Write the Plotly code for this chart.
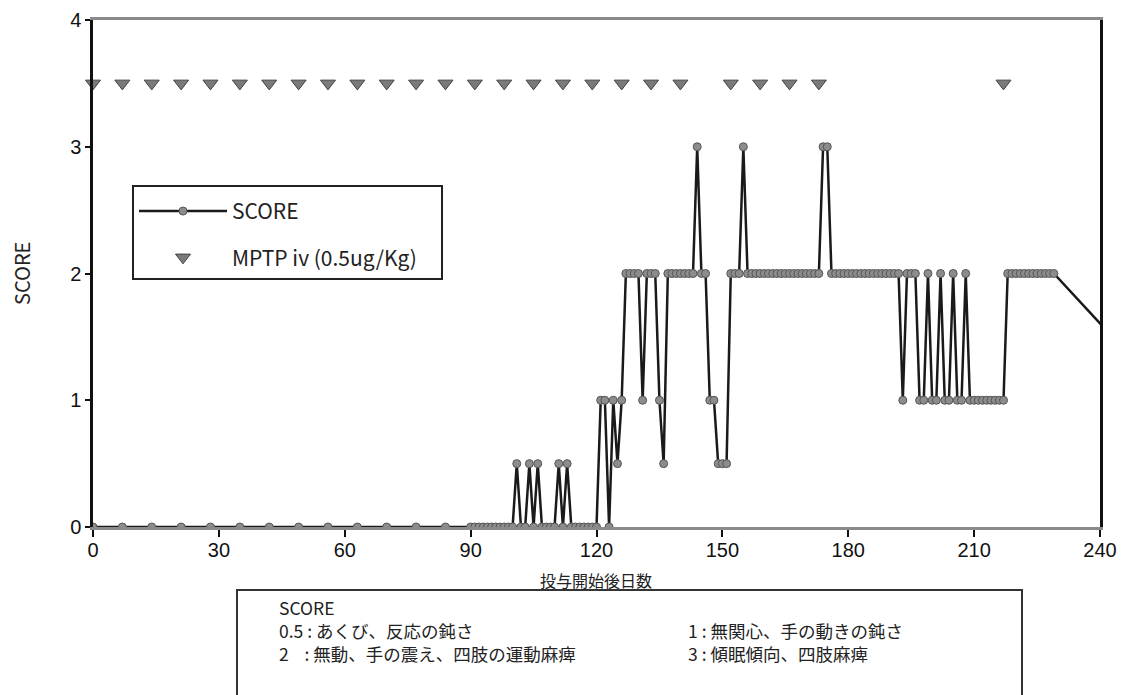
import plotly.graph_objects as go

# ---------------- data ----------------
weekly_days = [0, 7, 14, 21, 28, 35, 42, 49, 56, 63, 70, 77, 84]
weekly_score = [0, 0, 0, 0, 0, 0, 0, 0, 0, 0, 0, 0, 0]

daily_days = list(range(90, 230))
daily_score = [
    # 90-99
    0, 0, 0, 0, 0, 0, 0, 0, 0, 0,
    # 100-109
    0, 0.5, 0, 0, 0.5, 0, 0.5, 0, 0, 0,
    # 110-119
    0, 0.5, 0, 0.5, 0, 0, 0, 0, 0, 0,
    # 120-129
    0, 1, 1, 0, 1, 0.5, 1, 2, 2, 2,
    # 130-139
    2, 1, 2, 2, 2, 1, 0.5, 2, 2, 2,
    # 140-149
    2, 2, 2, 2, 3, 2, 2, 1, 1, 0.5,
    # 150-159
    0.5, 0.5, 2, 2, 2, 3, 2, 2, 2, 2,
    # 160-169
    2, 2, 2, 2, 2, 2, 2, 2, 2, 2,
    # 170-179
    2, 2, 2, 2, 3, 3, 2, 2, 2, 2,
    # 180-189
    2, 2, 2, 2, 2, 2, 2, 2, 2, 2,
    # 190-199
    2, 2, 2, 1, 2, 2, 2, 1, 1, 2,
    # 200-209
    1, 1, 2, 1, 1, 2, 1, 1, 2, 1,
    # 210-219
    1, 1, 1, 1, 1, 1, 1, 1, 2, 2,
    # 220-229
    2, 2, 2, 2, 2, 2, 2, 2, 2, 2,
]
tail_days = [257]
tail_score = [1.0]

score_days = weekly_days + daily_days + tail_days
score_values = weekly_score + daily_score + tail_score

mptp_days = [0, 7, 14, 21, 28, 35, 42, 49, 56, 63, 70, 77, 84, 91, 98, 105,
             112, 119, 126, 133, 140, 152, 159, 166, 173, 217]
mptp_level = [3.5, 3.5, 3.5, 3.5, 3.5, 3.5, 3.5, 3.5, 3.5, 3.5, 3.5, 3.5, 3.5,
              3.5, 3.5, 3.5, 3.5, 3.5, 3.5, 3.5, 3.5, 3.5, 3.5, 3.5, 3.5, 3.5]

x_ticks = [0, 30, 60, 90, 120, 150, 180, 210, 240]
y_ticks = [0, 1, 2, 3, 4]

legend_score = "SCORE"
legend_mptp = "MPTP iv (0.5ug/Kg)"
x_title = "投与開始後日数"
y_title = "SCORE"
box_left = ["SCORE",
            "0.5 : あくび、反応の鈍さ",
            "2\u00a0\u00a0\u00a0\u00a0: 無動、手の震え、四肢の運動麻痺"]
box_right = ["1 : 無関心、手の動きの鈍さ",
             "3 : 傾眠傾向、四肢麻痺"]

# ---------------- figure ----------------
OFF = 0                      # body margin removed via post_script
W, H = 1122, 695
ML = 93
MT = 20
MR = W - 1100
MB = H - 527
PW, PH = W - ML - MR, H - MT - MB


def px_x(px):
    """page pixel x -> paper coordinate"""
    return (px - OFF - ML) / PW


def px_y(py):
    """page pixel y -> paper coordinate"""
    return (H - MB - (py - OFF)) / PH


JP = "Noto Sans CJK JP"
TICKF = "Liberation Sans, Arial, sans-serif"

fig = go.Figure()
fig.add_trace(go.Scatter(
    x=score_days, y=score_values, mode="lines+markers", name=legend_score,
    line=dict(color="#1a1a1a", width=2.5),
    marker=dict(symbol="circle", size=8, color="#8c8c8c",
                line=dict(color="#555555", width=1)),
    legendgroup="a",
))
fig.add_trace(go.Scatter(
    x=mptp_days, y=mptp_level, mode="markers",
    name=legend_mptp + "\u00a0" * 4,
    marker=dict(symbol="triangle-down", size=13, color="#7a7a7a",
                line=dict(color="#444444", width=1)),
    cliponaxis=False, legendgroup="b",
))

fig.update_layout(
    width=W, height=H,
    margin=dict(l=ML, r=MR, t=MT, b=MB, autoexpand=False),
    paper_bgcolor="white", plot_bgcolor="white",
    showlegend=True,
    legend=dict(
        x=px_x(132), y=px_y(185), xanchor="left", yanchor="top",
        bgcolor="white", bordercolor="#222222", borderwidth=2,
        font=dict(family=JP, size=21, color="#222222"),
        itemwidth=88, tracegroupgap=16, traceorder="grouped",
        title=dict(text="\u00a0", font=dict(size=3)),
    ),
    xaxis=dict(
        range=[0, 240], tickvals=x_ticks, ticks="outside", ticklen=7,
        tickwidth=2, tickcolor="#111111", showgrid=False, zeroline=False,
        showline=True, linecolor="#8a8a8a", linewidth=3, mirror=True,
        automargin=False, ticklabelstandoff=-4,
        tickfont=dict(family=TICKF, size=20, color="#111111"),
    ),
    yaxis=dict(
        range=[0, 4], tickvals=y_ticks, ticks="outside", ticklen=5,
        tickwidth=1.5, tickcolor="#111111", showgrid=False, zeroline=False,
        showline=True, linecolor="#111111", linewidth=2.5, mirror=True,
        automargin=False,
        tickfont=dict(family=TICKF, size=20, color="#111111"),
    ),
)

annotations = [
    dict(text=x_title, x=px_x(596), y=px_y(580), xref="paper", yref="paper",
         showarrow=False, font=dict(family=JP, size=16, color="#222222"),
         xanchor="center", yanchor="middle"),
    dict(text=y_title, x=px_x(21), y=px_y(274), xref="paper", yref="paper",
         showarrow=False, textangle=-90,
         font=dict(family=JP, size=20, color="#222222"),
         xanchor="center", yanchor="middle"),
    dict(text="<br>".join(box_left), x=px_x(277), y=px_y(630.5),
         xref="paper", yref="paper", showarrow=False, align="left",
         font=dict(family=JP, size=17.5, color="#222222"),
         xanchor="left", yanchor="middle"),
    dict(text="<br>".join(box_right), x=px_x(686), y=px_y(641.5),
         xref="paper", yref="paper", showarrow=False, align="left",
         font=dict(family=JP, size=17.5, color="#222222"),
         xanchor="left", yanchor="middle"),
]
fig.update_layout(annotations=annotations)

fig.add_shape(type="rect", xref="paper", yref="paper",
              x0=px_x(237), x1=px_x(1022), y0=px_y(712), y1=px_y(590),
              line=dict(color="#333333", width=2), fillcolor="rgba(0,0,0,0)")

fig.write_html(
    "out.html",
    config={"displayModeBar": False},
    post_script="document.body.style.margin='0';"
                "document.body.style.overflow='hidden';",
)
